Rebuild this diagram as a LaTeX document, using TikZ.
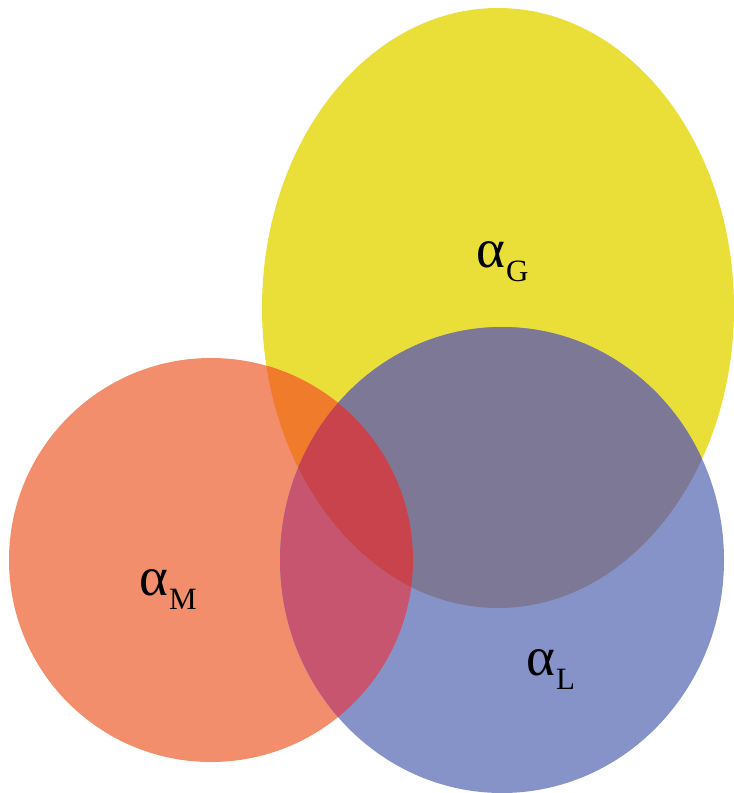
\documentclass[tikz,border=0pt]{standalone}
\usepackage{fontspec}
\setmainfont{Liberation Serif}
\definecolor{ycol}{HTML}{E9DF38}
\definecolor{ocol}{HTML}{F28E6C}
\definecolor{bcol}{HTML}{8593C9}
\definecolor{yocol}{HTML}{F07B2A}
\definecolor{ybcol}{HTML}{7E7897}
\definecolor{obcol}{HTML}{C75570}
\definecolor{yobcol}{HTML}{C8434C}
\tikzset{
  shapeG/.style={insert path={(498,308) ellipse [x radius=236pt, y radius=300pt]}},
  shapeM/.style={insert path={(211,560) ellipse [x radius=202pt, y radius=202pt]}},
  shapeL/.style={insert path={(502,560) ellipse [x radius=222pt, y radius=233pt]}},
  lbl/.style={inner sep=0pt, anchor=base west, font=\fontsize{55}{66}\selectfont},
}
\newcommand\subsc[1]{\hspace{1pt}\raisebox{-14pt}{\fontsize{31}{31}\selectfont #1}}
\begin{document}
\begin{tikzpicture}[x=1pt,y=-1pt]
  \useasboundingbox (0,0) rectangle (734,793);
  % base sets
  \fill[ycol, shapeG];
  \fill[ocol, shapeM];
  \fill[bcol, shapeL];
  % M and L overlap
  \begin{scope}
    \clip[shapeM];
    \fill[obcol, shapeL];
  \end{scope}
  % overlaps inside G
  \begin{scope}
    \clip[shapeG];
    \fill[yocol, shapeM];
    \fill[ybcol, shapeL];
    \begin{scope}
      \clip[shapeM];
      \fill[yobcol, shapeL];
    \end{scope}
  \end{scope}
  % labels
  \node[lbl] (lg) at (476,267) {α\subsc{G}};
  \node[lbl] (lm) at (139,595) {α\subsc{M}};
  \node[lbl] (ll) at (526,675) {α\subsc{L}};
\end{tikzpicture}
\end{document}
